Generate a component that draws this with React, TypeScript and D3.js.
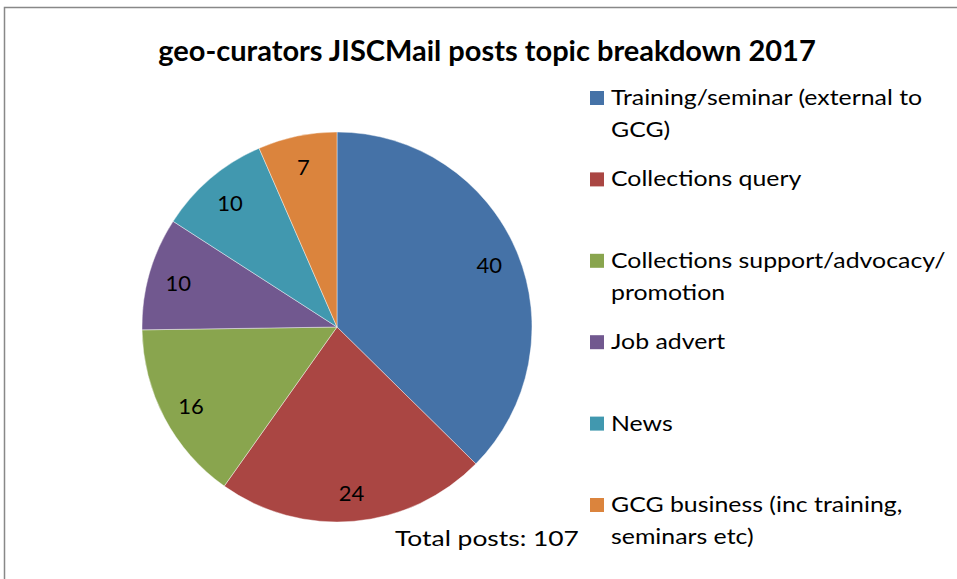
import React, { useRef, useEffect } from 'react';
import * as d3 from 'd3';

const categories = [
  'Training/seminar (external to GCG)',
  'Collections query',
  'Collections support/advocacy/ promotion',
  'Job advert',
  'News',
  'GCG business (inc training, seminars etc)',
];
// legend text as Excel wraps it
const legendLines = [
  ['Training/seminar (external to', 'GCG)'],
  ['Collections query'],
  ['Collections support/advocacy/', 'promotion'],
  ['Job advert'],
  ['News'],
  ['GCG business (inc training,', 'seminars etc)'],
];
const postCounts = [40, 24, 16, 10, 10, 7];
const sliceColors = ['#4572A7', '#AA4643', '#89A54E', '#71588F', '#4198AF', '#DB843D'];

const W = 957;
const H = 579;

const App: React.FC = () => {
  const ref = useRef<SVGSVGElement>(null);

  useEffect(() => {
    if (!ref.current) return;
    const svg = d3.select(ref.current);
    svg.selectAll('*').remove();
    const font = 'Lato, Carlito, Calibri, sans-serif';

    svg.append('rect').attr('width', W).attr('height', H).attr('fill', '#fff');

    // chart area border (runs off the right/bottom of the crop)
    svg.append('rect')
      .attr('x', 4.5).attr('y', 7.5)
      .attr('width', W + 20).attr('height', H + 20)
      .attr('fill', 'none').attr('stroke', '#888').attr('stroke-width', 1.5);

    svg.append('text')
      .attr('x', 487).attr('y', 61)
      .attr('text-anchor', 'middle')
      .style('font-family', font).style('font-weight', 'bold').style('font-size', '29px')
      .text('geo-curators JISCMail posts topic breakdown 2017');

    const cx = 337, cy = 327, r = 195;
    const data = categories.map((c, i) => ({ c, v: postCounts[i], color: sliceColors[i] }));
    const pie = d3.pie<typeof data[0]>().value(d => d.v).sort(null);
    const arcs = pie(data);
    const arc = d3.arc<d3.PieArcDatum<typeof data[0]>>().innerRadius(0).outerRadius(r);
    const labelArc = d3.arc<d3.PieArcDatum<typeof data[0]>>().innerRadius(165).outerRadius(165);

    const g = svg.append('g').attr('transform', `translate(${cx},${cy})`);
    g.selectAll('path').data(arcs).enter().append('path')
      .attr('d', arc)
      .attr('fill', d => d.data.color)
      .attr('stroke', 'rgba(255,255,255,0.6)').attr('stroke-width', 0.7);

    g.selectAll('text.lbl').data(arcs).enter().append('text')
      .attr('class', 'lbl')
      .attr('transform', d => `translate(${labelArc.centroid(d)})`)
      .attr('text-anchor', 'middle').attr('dy', '0.45em')
      .style('font-family', font).style('font-size', '22px').attr('fill', '#000')
      .text(d => d.data.v);

    svg.append('text')
      .attr('transform', 'translate(395,546) scale(1.2,1)')
      .style('font-family', font).style('font-size', '22px')
      .text(`Total posts: ${d3.sum(postCounts)}`);

    // legend
    const ly = d3.scalePoint<number>().domain(d3.range(categories.length)).range([105, 512]);
    const leg = svg.append('g');
    legendLines.forEach((lines, i) => {
      const y = ly(i) as number;
      leg.append('rect')
        .attr('x', 590).attr('y', y - 14).attr('width', 14).attr('height', 14)
        .attr('fill', sliceColors[i]);
      const t = leg.append('text')
        .attr('transform', `translate(611,${y}) scale(1.13,1)`)
        .style('font-family', font).style('font-size', '22px');
      lines.forEach((ln, j) => {
        t.append('tspan').attr('x', 0).attr('y', j * 32).text(ln);
      });
    });
  }, []);

  return (
    <svg
      ref={ref}
      width={W}
      height={H}
      style={{ position: 'fixed', left: 0, top: 0, display: 'block' }}
    />
  );
};

export default App;
